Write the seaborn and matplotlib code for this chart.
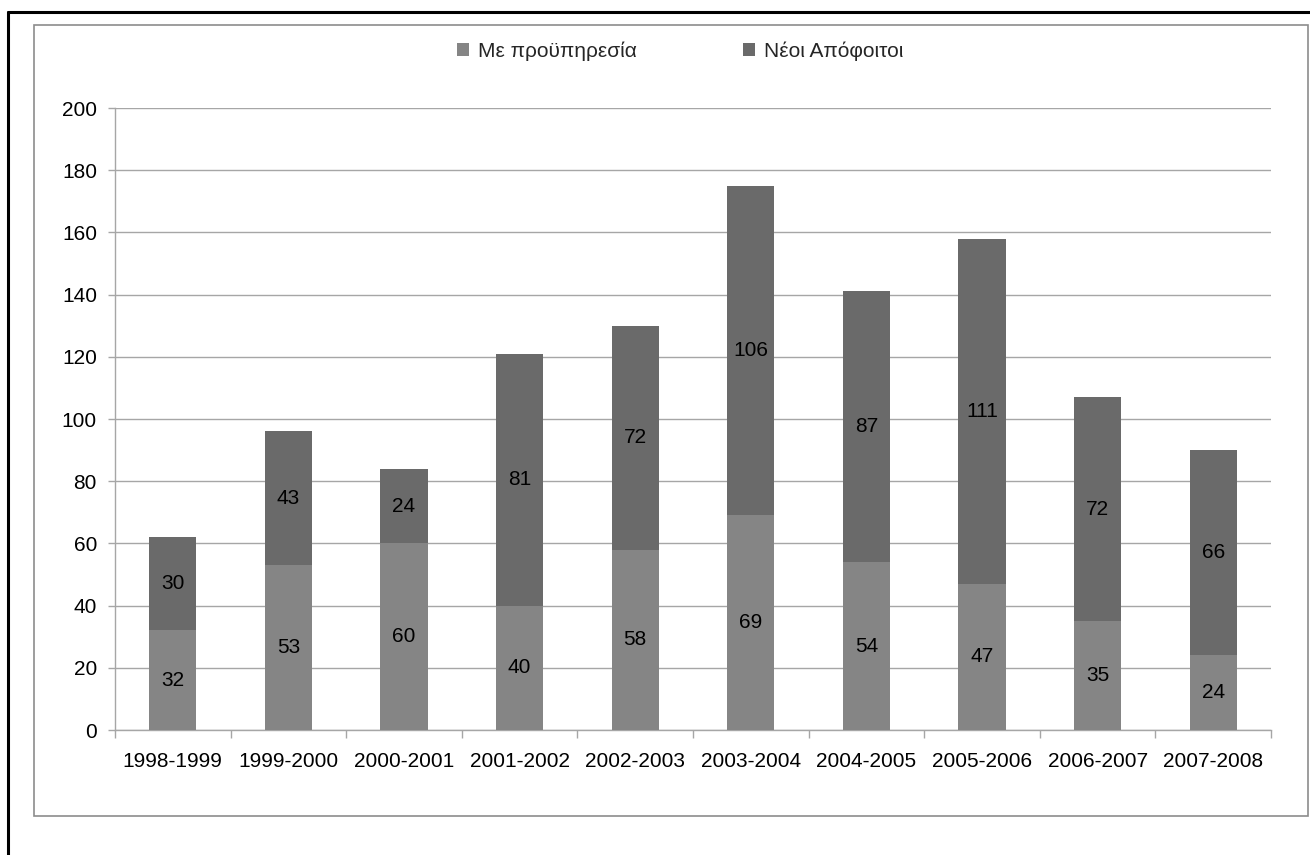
import matplotlib
matplotlib.use("Agg")
import matplotlib.pyplot as plt
from matplotlib.patches import Rectangle, Patch
from matplotlib.lines import Line2D
import numpy as np
import pandas as pd
import seaborn as sns

# Academic years and the two groups of appointees per year
years = ["1998-1999", "1999-2000", "2000-2001", "2001-2002", "2002-2003",
         "2003-2004", "2004-2005", "2005-2006", "2006-2007", "2007-2008"]
experienced = [32, 53, 60, 40, 58, 69, 54, 47, 35, 24]
new_graduates = [30, 43, 24, 81, 72, 106, 87, 111, 72, 66]
series_names = ["Με προϋπηρεσία", "Νέοι Απόφοιτοι"]
y_ticks = [0, 20, 40, 60, 80, 100, 120, 140, 160, 180, 200]

totals = [a + b for a, b in zip(experienced, new_graduates)]
df = pd.DataFrame({"year": years, "experienced": experienced,
                   "new": new_graduates, "total": totals})

sns.set_theme(style="white")
plt.rcParams["font.family"] = ["Liberation Sans", "DejaVu Sans"]

color_exp = "#858585"
color_new = "#6A6A6A"
grid_color = "#A6A6A6"
fs = 15

fig = plt.figure(figsize=(13.1, 8.55), dpi=100)
ax = fig.add_axes([115 / 1310, 1 - 730 / 855, (1271 - 115) / 1310, (730 - 108) / 855])

# Stacked bars: full height in the darker tone, lower part overlaid
sns.barplot(data=df, x="year", y="total", color=color_new, saturation=1,
            width=0.41, linewidth=0, ax=ax, zorder=3)
sns.barplot(data=df, x="year", y="experienced", color=color_exp, saturation=1,
            width=0.41, linewidth=0, ax=ax, zorder=3)

# Value labels centred in each segment
for i, (a, b) in enumerate(zip(experienced, new_graduates)):
    ax.text(i, a / 2, str(a), ha="center", va="center", fontsize=fs,
            color="black", zorder=5)
    ax.text(i, a + b / 2, str(b), ha="center", va="center", fontsize=fs,
            color="black", zorder=5)

ax.set_ylim(0, 200)
ax.set_xlim(-0.5, len(years) - 0.5)
ax.set_yticks(y_ticks)
ax.yaxis.grid(True, color=grid_color, linewidth=1.0, zorder=0)
ax.set_axisbelow(True)
ax.set_xlabel("")
ax.set_ylabel("")

for side in ["top", "right"]:
    ax.spines[side].set_visible(False)
for side in ["left", "bottom"]:
    ax.spines[side].set_color(grid_color)
    ax.spines[side].set_linewidth(1.0)

ax.tick_params(axis="y", which="major", length=5, width=1, color=grid_color,
               direction="out", labelsize=fs, labelcolor="black", pad=8, left=True)
ax.set_xticks(range(len(years)))
ax.set_xticklabels(years)
ax.tick_params(axis="x", which="major", length=0, labelsize=fs,
               labelcolor="black", pad=16)
ax.set_xticks(np.arange(-0.5, len(years), 1.0), minor=True)
ax.tick_params(axis="x", which="minor", length=6, width=1, color=grid_color,
               direction="out", bottom=True)

# Legend above the plot area
handles = [Patch(facecolor=color_exp, edgecolor="none"),
           Patch(facecolor=color_new, edgecolor="none")]
fig.legend(handles, series_names, loc="center", bbox_to_anchor=(0.519, 1 - 51 / 855),
           ncol=2, frameon=False, fontsize=fs, handlelength=0.6, handleheight=0.6,
           handletextpad=0.4, columnspacing=5.1)

# Chart frame and outer page border
fig.patches.append(Rectangle((34 / 1310, 1 - 816 / 855), (1308 - 34) / 1310,
                             (816 - 25) / 855, transform=fig.transFigure,
                             fill=False, edgecolor="#8C8C8C", linewidth=1.2))
fig.lines.append(Line2D([8 / 1310, 8 / 1310], [0, 1 - 12 / 855],
                        transform=fig.transFigure, color="black", linewidth=2.2))
fig.lines.append(Line2D([8 / 1310, 1], [1 - 12 / 855, 1 - 12 / 855],
                        transform=fig.transFigure, color="black", linewidth=2.2))

fig.savefig("out.png", dpi=100, facecolor="white")
